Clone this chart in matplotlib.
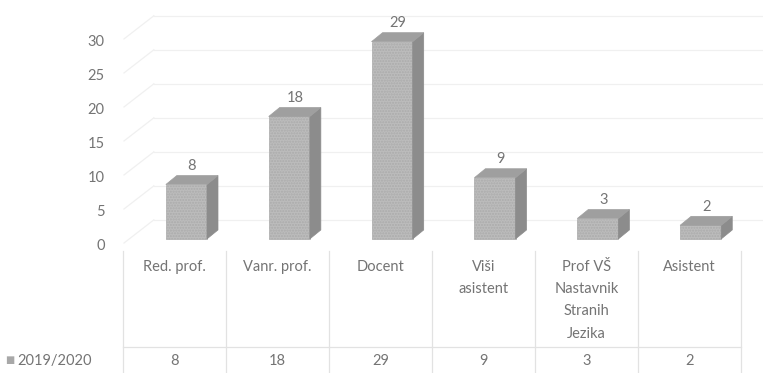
import numpy as np
import matplotlib.pyplot as plt
from matplotlib.patches import Polygon

plt.rcParams['font.family'] = ['Lato', 'DejaVu Sans']

categories = ['Red. prof.', 'Vanr. prof.', 'Docent', 'Viši\nasistent',
              'Prof VŠ\nNastavnik\nStranih\nJezika', 'Asistent']
values = [8, 18, 29, 9, 3, 2]
series_name = '2019/2020'
yticks = [0, 5, 10, 15, 20, 25, 30]

txt = '#747474'
grid_c = '#f0f0f0'
front_c = '#bcbcbc'
side_c = '#8c8c8c'
top_c = '#9f9f9f'

fig = plt.figure(figsize=(7.63, 3.73), dpi=100)
ax = fig.add_axes([0.1625, 0.3485, 0.8088, 0.6])
ax.set_xlim(-0.5, 5.5)
ax.set_ylim(0, 32.9)
ax.axis('off')

# depth of the box (back wall offset) and of a single column, in data units
wall_dx, wall_dy = 0.29, 3.4
bar_shift, bar_lift = 0.107, 0.6
bar_w = 0.40
side_dx, side_dy = 0.107, 1.32

# walls: horizontal grid on the back, diagonals on the side wall
for t in yticks:
    ax.plot([-0.5, -0.5 + wall_dx], [t, t + wall_dy], color=grid_c, lw=0.9,
            clip_on=False, zorder=0)
    ax.plot([-0.5 + wall_dx, 5.5 + wall_dx], [t + wall_dy, t + wall_dy],
            color=grid_c, lw=0.9, clip_on=False, zorder=0)

# columns: front, side and top faces
for i, v in enumerate(values):
    x0 = i + bar_shift - bar_w / 2
    x1 = x0 + bar_w
    y0 = bar_lift
    y1 = bar_lift + v
    ax.add_patch(Polygon([(x0, y0), (x1, y0), (x1, y1), (x0, y1)],
                         closed=True, fc=front_c, ec='#ababab', lw=0.5,
                         hatch='......', zorder=3))
    ax.add_patch(Polygon([(x1, y0), (x1 + side_dx, y0 + side_dy),
                          (x1 + side_dx, y1 + side_dy), (x1, y1)],
                         closed=True, fc=side_c, ec=side_c, lw=0.5, zorder=3))
    ax.add_patch(Polygon([(x0, y1), (x1, y1), (x1 + side_dx, y1 + side_dy),
                          (x0 + side_dx, y1 + side_dy)],
                         closed=True, fc=top_c, ec=top_c, lw=0.5, zorder=3))
    ax.annotate(str(v), (i + bar_shift + side_dx / 2, y1 + side_dy),
                xytext=(0, 2), textcoords='offset points', ha='center',
                va='bottom', fontsize=10.5, color=txt, zorder=4)

for t in yticks:
    ax.annotate(str(t), (-0.5, t), xytext=(-14, -2), textcoords='offset points',
                ha='right', va='center', fontsize=10.5, color=txt,
                annotation_clip=False)

# data table below the plot
tab = fig.add_axes([0.0, 0.0, 1.0, 0.33])
tab.set_xlim(ax.get_xlim()[0] - 123 / 102.8, 5.5 + 22 / 102.8)
tab.set_ylim(0, 123)
tab.axis('off')
line_c = '#e2e2e2'
for b in np.arange(-0.5, 6.0, 1.0):
    tab.plot([b, b], [0, 122], color=line_c, lw=0.9)
tab.plot([-0.5, 5.5], [26, 26], color=line_c, lw=0.9)
for i, (c, v) in enumerate(zip(categories, values)):
    tab.text(i, 113, c, ha='center', va='top', fontsize=10.5, color=txt,
             linespacing=1.75)
    tab.text(i, 12, str(v), ha='center', va='center', fontsize=10.5, color=txt)
tab.text(-0.5 - 118 / 102.8, 12, '■', ha='left', va='center', fontsize=7,
         color='#a8a8a8')
tab.text(-0.5 - 106 / 102.8, 12, series_name, ha='left', va='center',
         fontsize=10.5, color=txt)

fig.savefig('out.png', dpi=100)
